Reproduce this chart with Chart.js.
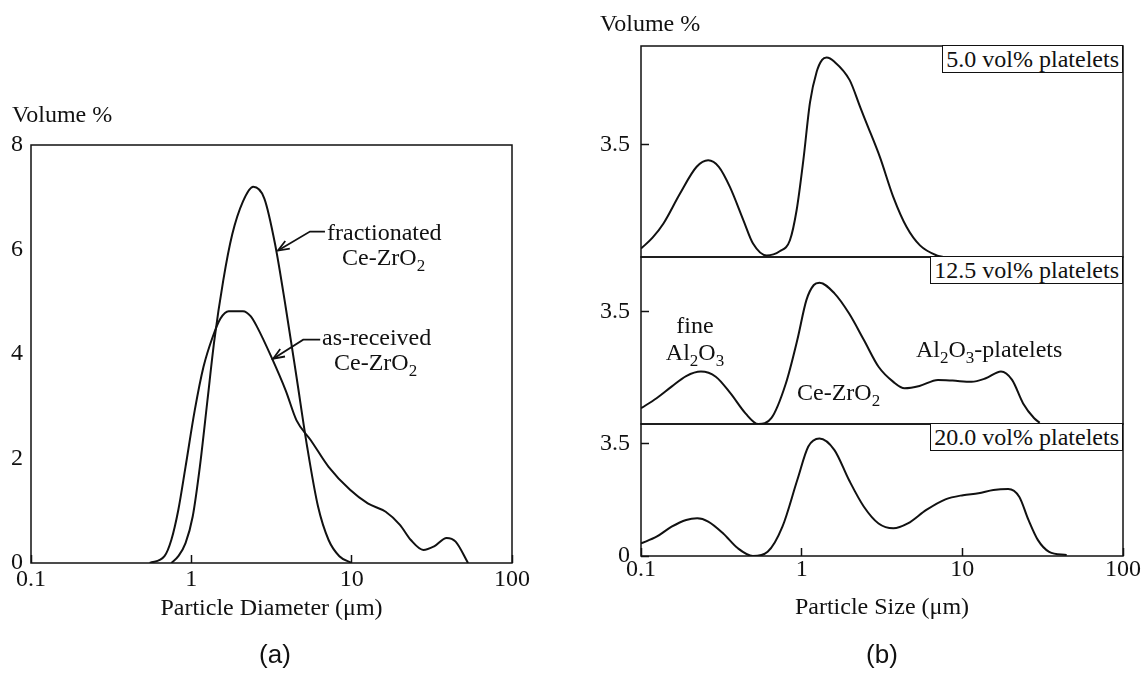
<!DOCTYPE html>
<html>
<head>
<meta charset="utf-8">
<script src="https://cdn.jsdelivr.net/npm/chart.js@4.4.1/dist/chart.umd.min.js"></script>
<style>
  html, body { margin: 0; padding: 0; background: #fff; }
  #page { position: relative; width: 1141px; height: 677px; overflow: hidden; }
  #page canvas { position: absolute; left: 0; top: 0; }
  .lbl { position: absolute; font-family: 'Liberation Serif', 'Times New Roman', serif; font-size: 24px; line-height: 24px; color: #111; white-space: nowrap; }
  .lbl sub { font-size: 17px; position: relative; top: 6px; vertical-align: baseline; }
  .mid { transform: translateX(-50%); }
  .tag { border: 1.5px solid #111; background: #fff; padding: 0 3px; line-height: 26px; right: 18px; }
  .cap { position: absolute; font-family: 'Liberation Sans', Arial, sans-serif; font-size: 26px; line-height: 26px; color: #111; transform: translateX(-50%); }
</style>
</head>
<body>
<div id="page">
  <canvas id="chartA" width="1141" height="677"></canvas>
  <canvas id="chartB1" width="1141" height="677"></canvas>
  <canvas id="chartB2" width="1141" height="677"></canvas>
  <canvas id="chartB3" width="1141" height="677"></canvas>

  <!-- panel (a) labels -->
  <div class="lbl" style="left:12px; top:102px;">Volume %</div>
  <div class="lbl" style="left:327px; top:220px;">fractionated</div>
  <div class="lbl" style="left:342px; top:245px;">Ce-ZrO<sub>2</sub></div>
  <div class="lbl" style="left:322px; top:325px;">as-received</div>
  <div class="lbl" style="left:334px; top:350px;">Ce-ZrO<sub>2</sub></div>
  <div class="cap" style="left:275px; top:641px;">(a)</div>

  <!-- panel (b) labels -->
  <div class="lbl" style="left:600px; top:11px;">Volume %</div>
  <div class="lbl tag" style="top:45px;">5.0 vol% platelets</div>
  <div class="lbl tag" style="top:256px;">12.5 vol% platelets</div>
  <div class="lbl tag" style="top:423px;">20.0 vol% platelets</div>
  <div class="lbl mid" style="left:695px; top:313px;">fine</div>
  <div class="lbl mid" style="left:695px; top:340px;">Al<sub>2</sub>O<sub>3</sub></div>
  <div class="lbl" style="left:797px; top:380px;">Ce-ZrO<sub>2</sub></div>
  <div class="lbl" style="left:916px; top:337px;">Al<sub>2</sub>O<sub>3</sub>-platelets</div>
  <div class="cap" style="left:882px; top:641px;">(b)</div>
</div>

<script>
// ---- data ----
// (a) particle diameter (um) vs volume %
const fracX = [0.75, 0.83, 0.92, 1.02, 1.13, 1.26, 1.39, 1.58, 1.80, 2.10, 2.43, 2.85, 3.33, 3.88, 4.53, 5.28, 6.17, 7.18, 8.38, 10];
const fracY = [0, 0.13, 0.38, 0.89, 1.84, 3.11, 4.25, 5.4, 6.29, 6.92, 7.2, 6.98, 6.1, 4.89, 3.56, 2.22, 1.08, 0.44, 0.13, 0];

const recvX = [0.55, 0.68, 0.75, 0.83, 0.92, 1.05, 1.19, 1.36, 1.52, 1.71, 2.1, 2.35, 2.58, 3.16, 3.88, 4.53, 5.56, 7.18, 9.77, 12.6, 16.3, 20, 23.4, 28, 32.7, 39.1, 44.5, 53.2];
const recvY = [0, 0.13, 0.44, 1.02, 1.84, 2.92, 3.75, 4.33, 4.68, 4.82, 4.82, 4.72, 4.51, 3.94, 3.3, 2.73, 2.35, 1.84, 1.4, 1.14, 0.98, 0.73, 0.44, 0.25, 0.32, 0.48, 0.41, 0];

// (b) particle size (um) vs volume %, one pair per platelet content
const p5X = [0.1, 0.118, 0.138, 0.175, 0.222, 0.262, 0.305, 0.358, 0.434, 0.498, 0.605, 0.73, 0.845, 0.93, 1.024, 1.127, 1.24, 1.34, 1.43, 1.6, 1.99, 2.31, 2.54, 3.07, 3.72, 4.5, 5.45, 6.92, 7.6];
const p5Y = [0.26, 0.6, 1.04, 1.97, 2.8, 3.0, 2.8, 2.17, 1.14, 0.42, 0.05, 0.18, 0.52, 1.45, 3.0, 4.8, 5.75, 6.12, 6.19, 6.06, 5.49, 4.66, 4.14, 3.1, 1.86, 0.93, 0.36, 0.05, 0];

const p12X = [0.1, 0.125, 0.155, 0.191, 0.236, 0.292, 0.361, 0.447, 0.537, 0.647, 0.797, 0.939, 1.07, 1.19, 1.29, 1.6, 1.97, 2.44, 3.01, 3.72, 4.37, 5.41, 7.05, 8.7, 11.4, 14.0, 17.4, 20.4, 23.9, 28, 30.3];
const p12Y = [0.49, 0.80, 1.16, 1.49, 1.63, 1.47, 0.95, 0.33, 0, 0.18, 1.26, 2.61, 3.85, 4.32, 4.39, 4.06, 3.44, 2.61, 1.78, 1.31, 1.11, 1.18, 1.37, 1.35, 1.31, 1.42, 1.63, 1.37, 0.64, 0.18, 0.04];

const p20X = [0.1, 0.125, 0.155, 0.191, 0.224, 0.262, 0.325, 0.401, 0.497, 0.614, 0.759, 0.939, 1.1, 1.29, 1.6, 1.97, 2.44, 3.01, 3.72, 4.58, 5.97, 7.85, 10.1, 12.6, 15.6, 19.3, 22.6, 25.8, 29.5, 34.7, 44.6];
const p20Y = [0.39, 0.6, 0.91, 1.12, 1.17, 1.07, 0.7, 0.24, 0, 0.13, 0.91, 2.36, 3.4, 3.65, 3.29, 2.36, 1.53, 1.01, 0.86, 1.01, 1.43, 1.76, 1.89, 1.95, 2.05, 2.08, 1.84, 1.12, 0.5, 0.13, 0.03];

// tick labels
const xTicks = [0.1, 1, 10, 100];
const yTicksA = [0, 2, 4, 6, 8];
const yTicksB1 = [3.5];
const yTicksB2 = [3.5];
const yTicksB3 = [0, 3.5];

const INK = '#111';
const serif = { family: "'Liberation Serif', 'Times New Roman', serif", size: 24 };

function toPoints(xs, ys) {
    return xs.map((x, i) => ({ x: x, y: ys[i] }));
}

function curve(xs, ys) {
    return {
        data: toPoints(xs, ys),
        borderColor: INK,
        borderWidth: 2,
        pointRadius: 0,
        fill: false,
        cubicInterpolationMode: 'monotone'
    };
}

// box around the plot area
const framePlugin = {
    id: 'frame',
    afterDatasetsDraw(chart) {
        const { ctx, chartArea: a } = chart;
        ctx.save();
        ctx.strokeStyle = INK;
        ctx.lineWidth = 1.5;
        ctx.strokeRect(a.left, a.top, a.right - a.left, a.bottom - a.top);
        ctx.restore();
    }
};

// label arrows in panel (a), tip anchored to data coordinates
const arrowPlugin = {
    id: 'arrows',
    afterDatasetsDraw(chart, args, opts) {
        if (!opts.items) return;
        const { ctx, scales: { x, y } } = chart;
        ctx.save();
        ctx.strokeStyle = INK;
        ctx.lineWidth = 1.8;
        opts.items.forEach(a => {
            const tx = x.getPixelForValue(a.x), ty = y.getPixelForValue(a.y);
            const ex = tx + a.elbow[0], ey = ty + a.elbow[1];
            ctx.beginPath();
            ctx.moveTo(tx + a.tail[0], ty + a.tail[1]);
            ctx.lineTo(ex, ey);
            ctx.lineTo(tx, ty);
            ctx.stroke();
            const ang = Math.atan2(ty - ey, tx - ex);
            ctx.beginPath();
            ctx.moveTo(tx - 12 * Math.cos(ang - 0.38), ty - 12 * Math.sin(ang - 0.38));
            ctx.lineTo(tx, ty);
            ctx.lineTo(tx - 12 * Math.cos(ang + 0.38), ty - 12 * Math.sin(ang + 0.38));
            ctx.stroke();
        });
        ctx.restore();
    }
};

function logX(opts) {
    return {
        type: 'logarithmic',
        min: 0.1,
        max: 100,
        display: opts.show,
        afterBuildTicks: s => { s.ticks = xTicks.map(v => ({ value: v })); },
        afterFit: s => {
            s.height = opts.height;
            // edge labels may hang past the plot, don't let them shrink it
            s.paddingLeft = 0;
            s.paddingRight = 0;
        },
        ticks: { callback: v => String(v), font: serif, color: INK, padding: opts.pad, maxRotation: 0, autoSkip: false },
        grid: { drawOnChartArea: false, tickLength: -8, tickColor: INK, tickWidth: 1.5 },
        border: { display: false },
        title: { display: true, text: opts.title, font: serif, color: INK, padding: 0 }
    };
}

function linY(max, ticks, width, pad, inwardTicks) {
    return {
        min: 0,
        max: max,
        afterBuildTicks: s => { s.ticks = ticks.map(v => ({ value: v })); },
        afterFit: s => {
            s.width = width;
            s.paddingTop = 0;
            s.paddingBottom = 0;
        },
        ticks: { callback: v => String(v), font: serif, color: INK, padding: pad },
        grid: inwardTicks
            ? { drawOnChartArea: false, tickLength: -8, tickColor: INK, tickWidth: 1.5 }
            : { display: false, drawTicks: false },
        border: { display: false }
    };
}

function baseOptions(padding) {
    return {
        responsive: false,
        animation: false,
        events: [],
        layout: { padding: padding },
        plugins: { legend: { display: false }, tooltip: { enabled: false } }
    };
}

// ---- (a) ----
const optsA = baseOptions({ left: 0, top: 145, right: 629, bottom: 54 });
optsA.plugins.arrows = {
    items: [
        { x: 3.47, y: 5.98, elbow: [32, -19], tail: [47, -19] },
        { x: 3.24, y: 3.91, elbow: [30, -19], tail: [47, -19] }
    ]
};
optsA.scales = {
    x: logX({ show: true, height: 60, pad: 10.6, title: 'Particle Diameter (μm)' }),
    y: linY(8, yTicksA, 31, 8, false)
};
new Chart(document.getElementById('chartA'), {
    type: 'line',
    data: { datasets: [curve(fracX, fracY), curve(recvX, recvY)] },
    options: optsA,
    plugins: [framePlugin, arrowPlugin]
});

// ---- (b) three stacked panels sharing the x axis ----
const panels = [
    { id: 'chartB1', xs: p5X, ys: p5Y, top: 46, bottom: 257, max: 6.55, ticks: yTicksB1, showX: false },
    { id: 'chartB2', xs: p12X, ys: p12Y, top: 257, bottom: 424, max: 5.19, ticks: yTicksB2, showX: false },
    { id: 'chartB3', xs: p20X, ys: p20Y, top: 424, bottom: 556, max: 4.1, ticks: yTicksB3, showX: true }
];

panels.forEach(p => {
    const xHeight = p.showX ? 66.4 : 0;
    const opts = baseOptions({ left: 601, top: p.top, right: 18, bottom: 677 - p.bottom - xHeight });
    opts.scales = {
        x: logX({ show: p.showX, height: xHeight, pad: 7.6, title: 'Particle Size (μm)' }),
        y: linY(p.max, p.ticks, 40, 19, true)
    };
    new Chart(document.getElementById(p.id), {
        type: 'line',
        data: { datasets: [curve(p.xs, p.ys)] },
        options: opts,
        plugins: [framePlugin]
    });
});
</script>
</body>
</html>
